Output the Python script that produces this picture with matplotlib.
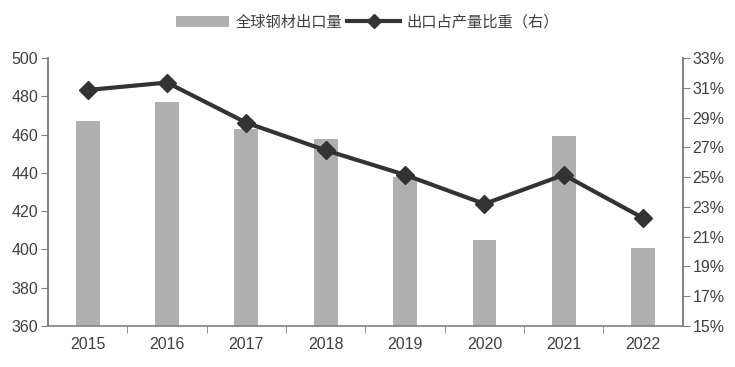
import numpy as np
import matplotlib.pyplot as plt
from matplotlib.ticker import FuncFormatter, MultipleLocator, FixedLocator

plt.rcParams['font.family'] = ['Liberation Sans', 'Noto Sans CJK SC', 'DejaVu Sans']

years = ['2015', '2016', '2017', '2018', '2019', '2020', '2021', '2022']
exports = [467, 477, 463, 457.5, 438, 405, 459, 401]          # 全球钢材出口量
share = [30.85, 31.35, 28.65, 26.8, 25.15, 23.2, 25.15, 22.25]  # 出口占产量比重 %
right_ticks = [15, 17, 19, 21, 23, 25, 27, 29, 31, 33]

fig = plt.figure(figsize=(7.35, 3.67), dpi=100)
ax = fig.add_axes([0.0653, 0.1117, 0.8637, 0.7303])
ax2 = ax.twinx()

x = np.arange(len(years))
gray_txt = '#404040'
spine_c = '#808080'

bars = ax.bar(x, exports, width=0.3, color='#b0b0b0', zorder=1)
line, = ax2.plot(x, share, color='#333333', lw=3, marker='D', markersize=9.5)

ax.set_xlim(-0.5, len(years) - 0.5)
ax.set_ylim(360, 500)
ax.yaxis.set_major_locator(MultipleLocator(20))
ax2.set_ylim(15, 33)
ax2.yaxis.set_major_locator(FixedLocator(right_ticks))
ax2.yaxis.set_major_formatter(FuncFormatter(lambda v, p: f'{v:.0f}%'))

ax.set_xticks(x)
ax.set_xticklabels(years)
ax.set_xticks(np.arange(0.5, len(years) - 1), minor=True)
ax.tick_params(axis='x', which='major', length=0, pad=8, labelsize=11.5, colors=gray_txt)
ax.tick_params(axis='x', which='minor', length=5, direction='out', color=spine_c)
ax.tick_params(axis='y', length=5, direction='out', color=spine_c, labelsize=11.5,
               labelcolor=gray_txt, pad=2)
ax2.tick_params(axis='y', length=5, direction='out', color=spine_c, labelsize=11.5,
                labelcolor=gray_txt, pad=2)

for a in (ax, ax2):
    a.spines['top'].set_visible(False)
    for s in ('left', 'right', 'bottom'):
        a.spines[s].set_color(spine_c)
        a.spines[s].set_linewidth(1.2)
ax2.spines['bottom'].set_visible(False)

leg = fig.legend([bars, line], ['全球钢材出口量', '出口占产量比重（右）'], loc='upper center',
                 bbox_to_anchor=(0.5, 1.0), ncol=2, frameon=False,
                 handlelength=3.5, columnspacing=0.3, handletextpad=0.4,
                 labelcolor=gray_txt, prop={'family': ['Noto Sans CJK SC'], 'size': 11})
leg.legend_handles[1].set_markersize(7)

fig.savefig('out.png', dpi=100)
